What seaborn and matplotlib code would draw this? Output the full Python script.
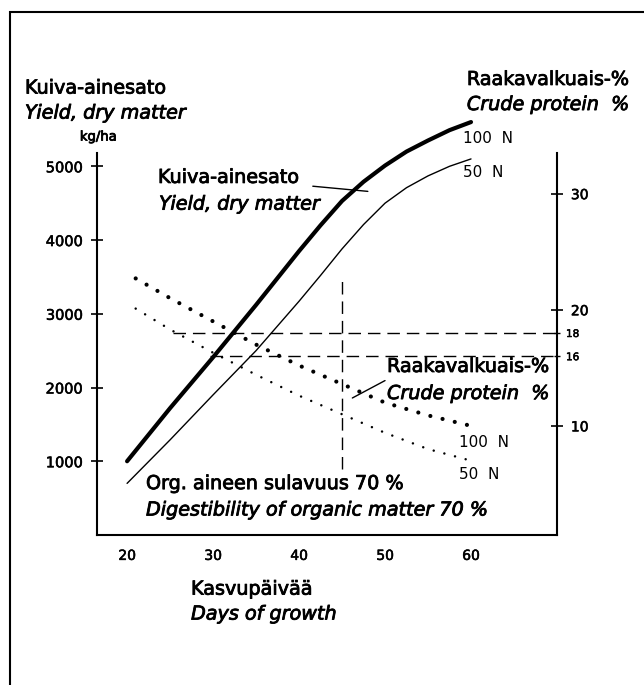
import matplotlib
matplotlib.use("Agg")
import matplotlib.pyplot as plt
import matplotlib.patheffects as pe
import seaborn as sns
import pandas as pd

# Dry matter yield, kg/ha, by days of growth
days = [20, 25, 30, 35, 40, 42.5, 45, 47.5, 50, 52.5, 55, 57.5, 60]
yield_100n = [1000, 1720, 2410, 3120, 3850, 4200, 4530, 4790, 5010, 5200, 5350, 5490, 5600]
yield_50n = [700, 1290, 1900, 2500, 3170, 3520, 3880, 4210, 4500, 4710, 4870, 5000, 5100]

# Crude protein %, by days of growth
protein_days = [21, 25, 30, 35, 40, 45, 50, 55, 60]
protein_100n = [22.7, 21.0, 19.0, 17.0, 15.2, 13.6, 12.0, 10.9, 10.0]
protein_50n = [20.1, 18.3, 16.3, 14.4, 12.6, 11.0, 9.4, 8.0, 7.0]

# reference (dashed) lines: protein levels and the day of 70 % digestibility
ref_protein = [18, 16]
ref_protein_start = [25.3, 29.6]
ref_day = 45
ref_day_yield = [900, 3520]

x_ticks = [20, 30, 40, 50, 60]
yield_ticks = [1000, 2000, 3000, 4000, 5000]
protein_ticks = [10, 20, 30]
protein_minor = [16, 18]

sns.set_style("white")
plt.rcParams["font.family"] = ["DejaVu Sans"]
plt.rcParams["text.color"] = "black"
plt.rcParams["xtick.color"] = "black"
plt.rcParams["ytick.color"] = "black"

# scanned print looks a bit heavier than the plain font
heavy = [pe.withStroke(linewidth=0.6, foreground="black")]

yield_df = pd.DataFrame({"day": days, "100 N": yield_100n, "50 N": yield_50n})
prot_df = pd.DataFrame({"day": protein_days, "100 N": protein_100n, "50 N": protein_50n})

fig = plt.figure(figsize=(6.44, 6.85), dpi=100)
ax = fig.add_axes([0.1506, 0.219, 0.7143, 0.5576])
ax2 = ax.twinx()

sns.lineplot(data=yield_df, x="day", y="100 N", ax=ax, color="black", lw=3.0, clip_on=False)
sns.lineplot(data=yield_df, x="day", y="50 N", ax=ax, color="black", lw=1.0, clip_on=False)
sns.lineplot(data=prot_df, x="day", y="100 N", ax=ax2, color="black", lw=3.0,
             linestyle=(0, (0.01, 3.0)), dash_capstyle="round")
sns.lineplot(data=prot_df, x="day", y="50 N", ax=ax2, color="black", lw=1.8,
             linestyle=(0, (0.01, 4.4)), dash_capstyle="round")

for lvl, start in zip(ref_protein, ref_protein_start):
    ax2.hlines(lvl, start, 70, colors="black", lw=1.0, linestyles=(0, (9, 5)))
ax.vlines(ref_day, ref_day_yield[0], ref_day_yield[1], colors="black", lw=1.0,
          linestyles=(0, (9, 5)))

ax.set_xlim(16.5, 70)
ax.set_ylim(0, 5180)
ax2.set_ylim(0.6, 33.5)

ax.set_xticks(x_ticks)
ax.set_xticklabels([str(v) for v in x_ticks], fontsize=10)
ax.set_yticks(yield_ticks)
ax.set_yticklabels([str(v) for v in yield_ticks], fontsize=10.5)
ax2.set_yticks(protein_ticks)
ax2.set_yticklabels([str(v) for v in protein_ticks], fontsize=10)
ax2.set_yticks(protein_minor, minor=True)
ax2.set_yticklabels([str(v) for v in protein_minor], minor=True, fontsize=7.5)

ax.tick_params(axis="both", direction="inout", length=8, width=1.2, pad=6, color="black")
ax2.tick_params(axis="y", which="major", direction="inout", length=8, width=1.2, pad=6)
ax2.tick_params(axis="y", which="minor", direction="inout", length=5, width=1.0, pad=4)

for lab in (ax.get_xticklabels() + ax.get_yticklabels()
            + ax2.get_yticklabels() + ax2.get_yticklabels(minor=True)):
    lab.set_path_effects([pe.withStroke(linewidth=0.4, foreground="black")])

ax.set_xlabel("")
ax.set_ylabel("")
ax2.set_ylabel("")
for name, sp in ax.spines.items():
    sp.set_visible(name in ("left", "bottom"))
    sp.set_linewidth(1.5)
    sp.set_color("black")
for name, sp in ax2.spines.items():
    sp.set_visible(name == "right")
    sp.set_linewidth(1.5)
    sp.set_color("black")

# frame around the figure (cut at right and bottom edges in the scan)
fig.add_artist(plt.Rectangle((0.0155, -0.05), 1.2, 1.05 - 12 / 685,
                             transform=fig.transFigure, fill=False, lw=1.5,
                             edgecolor="black"))

big = 13.8
small = 11


def label(x, y, s, size=big, italic=False, bold=True):
    fig.text(x, y, s, fontsize=size, va="center",
             style="italic" if italic else "normal",
             path_effects=heavy if bold else None)


label(0.0388, 0.8715, "Kuiva-ainesato")
label(0.0388, 0.835, "Yield, dry matter", italic=True)
label(0.124, 0.800, "kg/ha", size=9.5)
label(0.725, 0.884, "Raakavalkuais-%")
label(0.725, 0.8474, "Crude protein  %", italic=True)
label(0.719, 0.798, "100  N", size=small, bold=False)
label(0.719, 0.748, "50  N", size=small, bold=False)

label(0.2453, 0.741, "Kuiva-ainesato")
label(0.247, 0.702, "Yield, dry matter", italic=True)
ax.plot([41.6, 48.0], [4730, 4660], color="black", lw=1.0)

label(0.601, 0.465, "Raakavalkuais-%")
label(0.601, 0.4255, "Crude protein  %", italic=True)
ax2.plot([46.2, 50.0], [12.4, 13.9], color="black", lw=1.0)
label(0.713, 0.354, "100  N", size=small, bold=False)
label(0.713, 0.308, "50  N", size=small, bold=False)

label(0.2267, 0.294, "Org. aineen sulavuus 70 %")
label(0.2267, 0.2555, "Digestibility of organic matter 70 %", italic=True)
label(0.2966, 0.140, "Kasvupäivää")
label(0.2966, 0.1036, "Days of growth", italic=True)

fig.savefig("out.png", dpi=100)
